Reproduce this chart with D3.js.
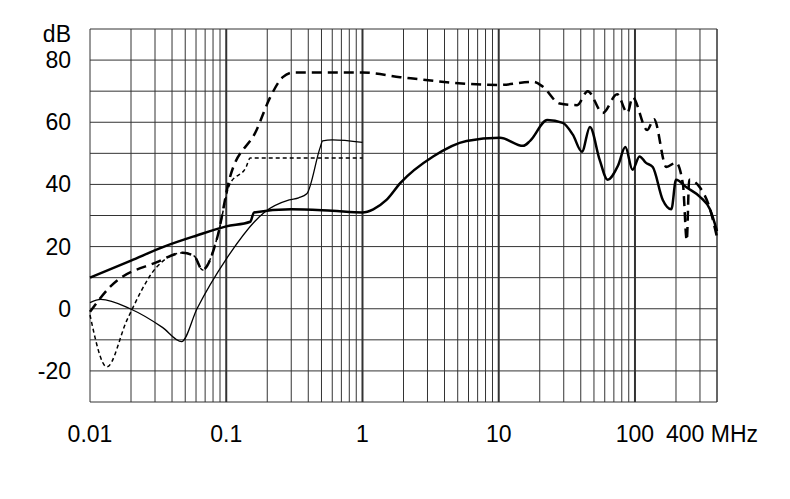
<!DOCTYPE html>
<html>
<meta charset="UTF-8">
<head>
<style>
  body { margin: 0; background: #fff; }
  text { font-family: "Liberation Sans", Arial, sans-serif; font-size: 23px; fill: #000; }
</style>
</head>
<body>
<svg id="chart" width="790" height="499"></svg>
<script src="https://d3js.org/d3.v7.min.js"></script>
<script>
// frequencies in MHz, levels in dB
let thickSolidF = [0.01, 0.02, 0.035, 0.06, 0.1, 0.15, 0.16, 0.3, 0.6, 1, 1.2, 1.5, 1.9, 3.3, 5.8, 10.2, 15.1, 17, 22.7, 29.5, 35, 40.8, 46.7, 55, 63, 75, 85, 96, 108, 120, 135, 160, 185, 200, 240, 300, 355, 400];
let thickSolidV = [10, 15.5, 20, 23.5, 26.5, 28, 31, 32, 31.5, 31, 32, 35, 40.5, 49, 54, 55, 52.4, 54, 60.7, 59.8, 56, 50.5, 58.5, 48, 41.5, 46, 52, 44.7, 49, 47, 45.6, 35, 32, 41.5, 39, 36, 32, 25];

let thickDashF = [0.01, 0.014, 0.031, 0.048, 0.058, 0.067, 0.086, 0.106, 0.167, 0.21, 0.26, 0.31, 1, 1.89, 10, 17.9, 21, 28, 37.6, 45, 58, 74, 88, 96, 123, 138, 170, 200, 225, 240, 250, 300, 350, 400];
let thickDashV = [-1, 7, 15, 18, 17, 12.5, 23, 42, 57.5, 68, 74.5, 76, 76, 74.5, 72, 73, 71.5, 66, 65.5, 70, 63, 69, 63, 68, 57.5, 61, 45.6, 47, 40, 22, 41.5, 39, 33, 23];

let dotF = [0.01, 0.0133, 0.0187, 0.031, 0.048, 0.058, 0.067, 0.086, 0.106, 0.14, 0.15, 1];
let dotV = [-2, -18.7, -3.6, 13.5, 18, 17, 12.5, 23, 40, 45.6, 48.5, 48.5];

let thinF = [0.01, 0.012, 0.0197, 0.034, 0.047, 0.061, 0.1, 0.19, 0.29, 0.34, 0.39, 0.49, 0.51, 0.6, 1];
let thinV = [2, 3, 0, -6, -10.6, 0, 16, 31, 35, 35.7, 37, 52, 54, 54.3, 53.5];

let yTicks = [-20, 0, 20, 40, 60, 80];
let xTicks = [0.01, 0.1, 1, 10, 100];
let xTickLabels = ["0.01", "0.1", "1", "10", "100"];

let svg = d3.select("#chart");
let x = d3.scaleLog().domain([0.01, 400]).range([90, 717]);
let y = d3.scaleLinear().domain([-30, 90]).range([402, 29]);

// grid
let vLines = [];
[0.01, 0.1, 1, 10, 100].forEach(d => {
    for (let i = 1; i < 10; i++) { if (d * i <= 400) vLines.push(d * i); }
});
vLines.push(400);
let grid = svg.append("g").attr("stroke", "#333");
grid.selectAll("line.v").data(vLines).enter().append("line")
    .attr("x1", d => x(d)).attr("x2", d => x(d))
    .attr("y1", y(90)).attr("y2", y(-30))
    .attr("stroke-width", d => xTicks.includes(d) && d > 0.01 ? 2 : 1);
grid.selectAll("line.h").data(d3.range(-30, 91, 10)).enter().append("line")
    .attr("x1", x(0.01)).attr("x2", x(400))
    .attr("y1", d => y(d)).attr("y2", d => y(d))
    .attr("stroke-width", 1);

// labels
svg.append("g").selectAll("text").data(yTicks).enter().append("text")
    .attr("x", 71).attr("y", d => y(d) + 8).attr("text-anchor", "end").text(d => d);
svg.append("text").attr("x", 71).attr("y", 42).attr("text-anchor", "end").text("dB");
svg.append("g").selectAll("text").data(xTicks).enter().append("text")
    .attr("x", d => x(d)).attr("y", 442).attr("text-anchor", "middle")
    .text((d, i) => xTickLabels[i]);
svg.append("text").attr("x", 666).attr("y", 442).text("400 MHz");

// curves
let line = d3.line().x(d => x(d[0])).y(d => y(d[1])).curve(d3.curveMonotoneX);
function draw(fs, vs, w, dash) {
    svg.append("path").datum(fs.map((f, i) => [f, vs[i]]))
        .attr("d", line).attr("fill", "none").attr("stroke", "#000")
        .attr("stroke-width", w).attr("stroke-dasharray", dash);
}
draw(thinF, thinV, 1.3, null);
draw(dotF, dotV, 1.5, "4,3");
draw(thickDashF, thickDashV, 2.5, "10,6");
draw(thickSolidF, thickSolidV, 2.5, null);
</script>
</body>
</html>
